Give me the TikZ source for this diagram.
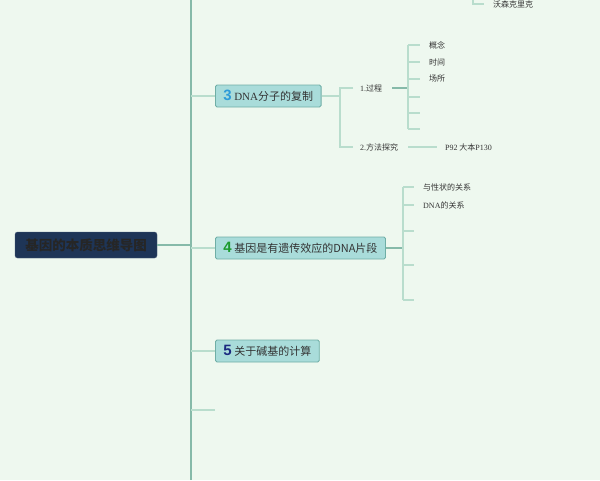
\documentclass[tikz,border=0pt]{standalone}
\usepackage{fontspec}
\setmainfont{Liberation Serif}
\setsansfont{Liberation Sans}
\newfontfamily\cjk{Noto Sans CJK SC}
\usetikzlibrary{positioning}
\definecolor{PaperGreen}{HTML}{EEF8EF}
\definecolor{BoxTeal}{HTML}{A9DCDA}
\definecolor{EdgeTeal}{HTML}{6FAEA6}
\definecolor{RootNavy}{HTML}{1E3557}
\definecolor{TrunkLine}{HTML}{86BAA9}
\definecolor{TwigLine}{HTML}{B9DDCD}
\definecolor{NumBlue}{HTML}{2E9BD8}
\definecolor{NumGreen}{HTML}{1C9A2C}
\definecolor{NumNavy}{HTML}{1B2A80}
\newcommand\topicnum[2]{{\sffamily\bfseries\fontsize{15}{15}\selectfont\color{#1}#2}}
\tikzset{
  rootbox/.style={fill=RootNavy,draw=RootNavy!80!white,rounded corners=2.5pt,minimum width=142pt,minimum height=26pt,inner sep=0pt,text=black!85,font=\cjk\bfseries\fontsize{13.5}{15}\selectfont},
  topic/.style={draw=EdgeTeal,fill=BoxTeal,rounded corners=1.5pt,line width=.9pt,anchor=west,minimum height=22pt,inner xsep=8pt,inner ysep=0pt,text=black!80,font=\cjk\fontsize{11}{12}\selectfont},
  leaf/.style={anchor=west,inner sep=0pt,text=black!80,font=\cjk\fontsize{8}{9}\selectfont},
  trunk/.style={draw=TrunkLine,line width=1.2pt},
  stem/.style={draw=TrunkLine,line width=1.3pt},
  twig/.style={draw=TwigLine,line width=1.2pt}
}
\begin{document}
\begin{tikzpicture}[x=1pt,y=-1pt,node distance=9pt]
  \fill[PaperGreen] (0,0) rectangle (600,480);
  \useasboundingbox (0,0) rectangle (600,480);
  \coordinate (top) at (191,0);
  \coordinate (bot) at (191,480);
  \draw[trunk] (top) -- (bot);
  \node[rootbox] (root) at (86,245) {基因的本质思维导图};
  \draw[stem] (root.east) -- (root.east -| top);

  % topics
  \node[topic] (b3) at (215,96) {\topicnum{NumBlue}{3} {\rmfamily DNA}分子的复制};
  \node[topic] (b4) at (215,248) {\topicnum{NumGreen}{4} 基因是有遗传效应的DNA片段};
  \node[topic] (b5) at (215,351) {\topicnum{NumNavy}{5} 关于碱基的计算};
  \coordinate (b6) at (215,410);
  \foreach \b in {b3,b4,b5}
    \draw[twig] (\b.west) -- (\b.west -| top);
  \draw[twig] (b6) -- (b6 -| top);

  % top leftover
  \coordinate (wtop) at (473,-2);
  \coordinate (wk) at (484,4);
  \node[leaf,right=of wk] (wsk) {沃森克里克};
  \draw[twig] (wtop) |- (wk);

  % 3
  \coordinate (j3) at (340,96);
  \node[leaf] (p1) at (360,88) {{\rmfamily 1.}过程};
  \node[leaf] (p2) at (360,147) {{\rmfamily 2.}方法探究};
  \draw[twig] (b3.east) -- (j3);
  \draw[twig] ([xshift=-7pt]p1.west) -| (j3) |- ([xshift=-7pt]p2.west);
  \coordinate (j1) at (408,88);
  \draw[stem] ([xshift=10pt]p1.east) -- (j1);
  \foreach \y [count=\i] in {45,62,79,97,113,129}
    \coordinate (t\i) at (420,\y);
  \draw[twig] (t1 -| j1) -- (t6 -| j1);
  \foreach \i in {1,...,6}
    \draw[twig] (t\i -| j1) -- (t\i);
  \node[leaf,right=of t1] (k1) {概念};
  \node[leaf,right=of t2] (k2) {时间};
  \node[leaf,right=of t3] (k3) {场所};
  \node[leaf] (ref) at (445,147) {{\rmfamily P92} 大本{\rmfamily P130}};
  \draw[twig] (p2.east -| j1) -- ([xshift=-8pt]ref.west);

  % 4
  \coordinate (j4) at (403,248);
  \draw[stem] (b4.east) -- (j4);
  \foreach \y [count=\i] in {187,205,231,265,300}
    \coordinate (u\i) at (414,\y);
  \draw[twig] (u1 -| j4) -- (u5 -| j4);
  \foreach \i in {1,...,5}
    \draw[twig] (u\i -| j4) -- (u\i);
  \node[leaf,right=of u1] (r1) {与性状的关系};
  \node[leaf,right=of u2] (r2) {{\rmfamily DNA}的关系};
\end{tikzpicture}
\end{document}
